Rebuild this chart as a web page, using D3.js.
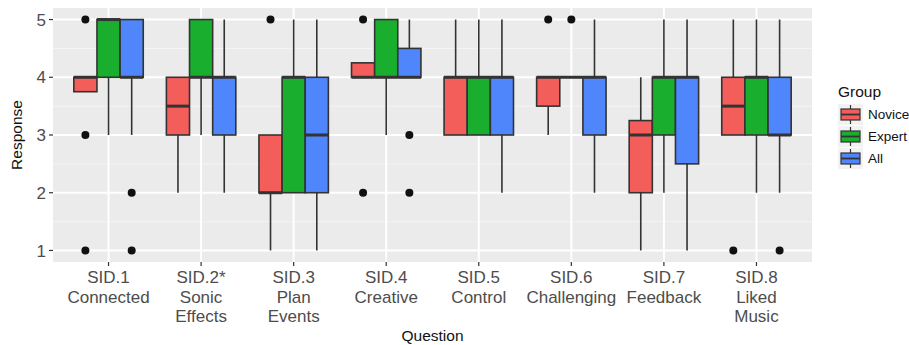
<!DOCTYPE html>
<html>
<head>
<meta charset="utf-8">
<script src="https://cdn.jsdelivr.net/npm/d3@7"></script>
<style>
  body { margin: 0; background: #fff; }
  text { font-family: "Liberation Sans", Arial, sans-serif; }
</style>
</head>
<body>
<svg id="chart" width="909" height="345"></svg>
<script>
// questions (tick labels, one array per line)
const questions = [
    ["SID.1", "Connected"],
    ["SID.2*", "Sonic", "Effects"],
    ["SID.3", "Plan", "Events"],
    ["SID.4", "Creative"],
    ["SID.5", "Control"],
    ["SID.6", "Challenging"],
    ["SID.7", "Feedback"],
    ["SID.8", "Liked", "Music"]
];
const groups = ["Novice", "Expert", "All"];
const colors = ["#f35e5a", "#19ae2e", "#4f86fb"];
const yTicks = [1, 2, 3, 4, 5];

// [lower whisker, q1, median, q3, upper whisker] per question
const noviceStats = [[3.75, 3.75, 4, 4, 4], [2, 3, 3.5, 4, 4], [1, 2, 2, 3, 3], [4, 4, 4, 4.25, 4.25],
    [3, 3, 4, 4, 5], [3, 3.5, 4, 4, 4], [1, 2, 3, 3.25, 4], [3, 3, 3.5, 4, 5]];
const expertStats = [[3, 4, 5, 5, 5], [3, 4, 4, 5, 5], [2, 2, 4, 4, 5], [3, 4, 4, 5, 5],
    [3, 3, 4, 4, 5], [4, 4, 4, 4, 4], [2, 3, 4, 4, 5], [2, 3, 4, 4, 5]];
const allStats = [[3, 4, 4, 5, 5], [2, 3, 4, 4, 5], [1, 2, 3, 4, 5], [4, 4, 4, 4.5, 5],
    [2, 3, 4, 4, 5], [2, 3, 4, 4, 5], [1, 2.5, 4, 4, 5], [2, 3, 3, 4, 5]];

// outliers per question
const noviceOut = [[5, 3, 1], [], [5], [5, 2], [], [5], [], [1]];
const expertOut = [[], [], [], [], [], [5], [], []];
const allOut = [[2, 1], [], [], [3, 2], [], [], [], [1]];

const stats = [noviceStats, expertStats, allStats];
const outs = [noviceOut, expertOut, allOut];

const margin = { left: 53, right: 97, top: 8, bottom: 83 };
const W = 909, H = 345;
const pw = W - margin.left - margin.right, ph = H - margin.top - margin.bottom;

const svg = d3.select("#chart");
const g = svg.append("g").attr("transform", "translate(" + margin.left + "," + margin.top + ")");

// discrete axis: positions 1..8 with 0.6 expansion each side
const x = d3.scaleLinear().domain([0.4, questions.length + 0.6]).range([0, pw]);
const y = d3.scaleLinear().domain([0.8, 5.2]).range([ph, 0]);
const dodge = 0.75, bw = dodge / groups.length;

g.append("rect").attr("width", pw).attr("height", ph).attr("fill", "#ebebeb");

// minor grid
g.selectAll(".ymin").data([1.5, 2.5, 3.5, 4.5]).enter().append("line")
    .attr("x1", 0).attr("x2", pw)
    .attr("y1", d => y(d)).attr("y2", d => y(d))
    .attr("stroke", "#f4f4f4").attr("stroke-width", 1);
// major grid
g.selectAll(".ymaj").data(yTicks).enter().append("line")
    .attr("x1", 0).attr("x2", pw)
    .attr("y1", d => y(d)).attr("y2", d => y(d))
    .attr("stroke", "#fff").attr("stroke-width", 2);
g.selectAll(".xmaj").data(questions).enter().append("line")
    .attr("y1", 0).attr("y2", ph)
    .attr("x1", (d, i) => x(i + 1)).attr("x2", (d, i) => x(i + 1))
    .attr("stroke", "#fff").attr("stroke-width", 2);

const ink = "#333";

// boxes
groups.forEach((grp, gi) => {
    stats[gi].forEach((s, qi) => {
        const cx = x(qi + 1 - dodge / 2 + bw * (gi + 0.5));
        const half = (x(bw) - x(0)) / 2;
        const bg = g.append("g");
        // whiskers
        bg.append("line").attr("x1", cx).attr("x2", cx)
            .attr("y1", y(s[0])).attr("y2", y(s[1]))
            .attr("stroke", ink).attr("stroke-width", 1.6);
        bg.append("line").attr("x1", cx).attr("x2", cx)
            .attr("y1", y(s[3])).attr("y2", y(s[4]))
            .attr("stroke", ink).attr("stroke-width", 1.6);
        bg.append("rect")
            .attr("x", cx - half).attr("width", half * 2)
            .attr("y", y(s[3])).attr("height", y(s[1]) - y(s[3]))
            .attr("fill", colors[gi]).attr("stroke", ink).attr("stroke-width", 1.6);
        bg.append("line").attr("x1", cx - half).attr("x2", cx + half)
            .attr("y1", y(s[2])).attr("y2", y(s[2]))
            .attr("stroke", ink).attr("stroke-width", 3);
        bg.selectAll("circle").data(outs[gi][qi]).enter().append("circle")
            .attr("cx", cx).attr("cy", d => y(d)).attr("r", 4)
            .attr("fill", "#111");
    });
});

// y axis
const yAxis = g.append("g");
yTicks.forEach(t => {
    yAxis.append("line").attr("x1", -4).attr("x2", 0)
        .attr("y1", y(t)).attr("y2", y(t)).attr("stroke", ink).attr("stroke-width", 1.2);
    yAxis.append("text").attr("x", -7).attr("y", y(t)).attr("dy", "0.36em")
        .attr("text-anchor", "end").attr("font-size", 17).attr("fill", "#4d4d4d").text(t);
});

// x axis
const xAxis = g.append("g").attr("transform", "translate(0," + ph + ")");
questions.forEach((q, i) => {
    xAxis.append("line").attr("x1", x(i + 1)).attr("x2", x(i + 1))
        .attr("y1", 0).attr("y2", 4).attr("stroke", ink).attr("stroke-width", 1.2);
    const t = xAxis.append("text").attr("text-anchor", "middle")
        .attr("font-size", 17).attr("fill", "#4d4d4d");
    q.forEach((line, li) => {
        t.append("tspan").attr("x", x(i + 1)).attr("y", 21 + li * 19.5).text(line);
    });
});

// axis titles
svg.append("text").attr("x", margin.left + pw / 2).attr("y", 341)
    .attr("text-anchor", "middle").attr("font-size", 15.5).attr("fill", "#111").text("Question");
svg.append("text").attr("transform", "translate(22," + (margin.top + ph / 2) + ") rotate(-90)")
    .attr("text-anchor", "middle").attr("font-size", 15.5).attr("fill", "#111").text("Response");

// legend
const lg = svg.append("g").attr("transform", "translate(838,84)");
lg.append("text").attr("x", 0).attr("y", 13).attr("font-size", 15.5).attr("fill", "#111").text("Group");
groups.forEach((grp, gi) => {
    const ky = 20 + gi * 22;
    const k = lg.append("g").attr("transform", "translate(0," + ky + ")");
    const kw = 25, kh = 21;
    k.append("rect").attr("width", kw).attr("height", kh).attr("fill", "#f2f2f2");
    k.append("line").attr("x1", kw / 2).attr("x2", kw / 2).attr("y1", 1).attr("y2", kh - 1)
        .attr("stroke", ink).attr("stroke-width", 1.2);
    k.append("rect").attr("x", 3).attr("y", 5).attr("width", kw - 6).attr("height", kh - 10)
        .attr("fill", colors[gi]).attr("stroke", ink).attr("stroke-width", 1.2);
    k.append("line").attr("x1", 3).attr("x2", kw - 3).attr("y1", kh / 2).attr("y2", kh / 2)
        .attr("stroke", ink).attr("stroke-width", 1.8);
    k.append("text").attr("x", kw + 5).attr("y", kh / 2).attr("dy", "0.36em")
        .attr("font-size", 13.5).attr("fill", "#111").text(grp);
});
</script>
</body>
</html>
